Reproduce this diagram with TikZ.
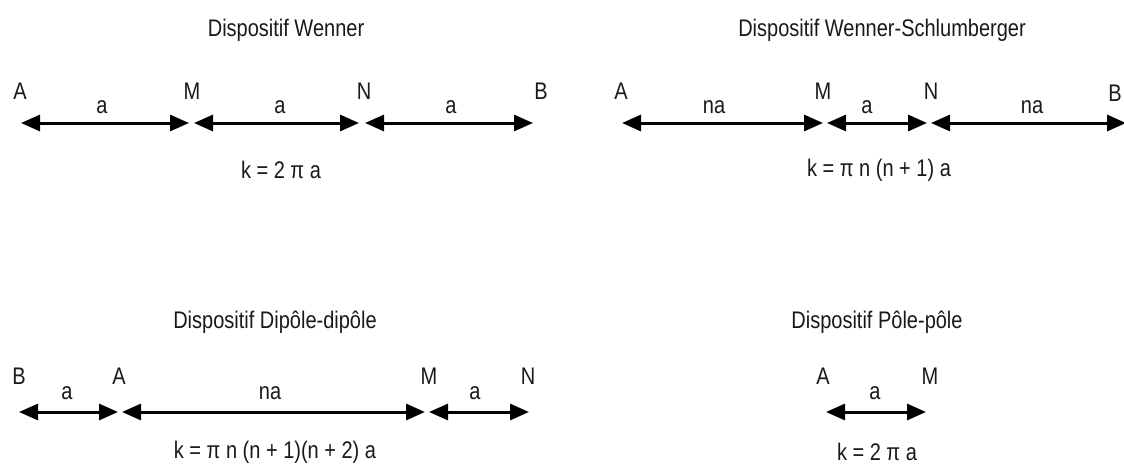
\documentclass[tikz,border=0pt]{standalone}
\usepackage{fontspec}
\usepackage{graphicx}
\setmainfont{Liberation Sans}
\usetikzlibrary{arrows.meta}
\newcommand\talltext[1]{\scalebox{1}[1.2]{#1}}
\begin{document}
\begin{tikzpicture}[x=1pt,y=-1pt,
  lbl/.style={font=\fontsize{20}{24}\selectfont, inner sep=0pt, anchor=center, text=black!90},
  dimarrow/.style={line width=3pt, {Triangle[length=19pt,width=16pt]}-{Triangle[length=19pt,width=16pt]}}]
\useasboundingbox (0,0) rectangle (1124,474);
\clip (0,0) rectangle (1124,474);

% ---------- Dispositif Wenner ----------
\node[lbl] (t1) at (286,30) {\talltext{Dispositif Wenner}};
\node[lbl] (w-A) at (20,91) {\talltext{A}};
\node[lbl] (w-M) at (192,91) {\talltext{M}};
\node[lbl] (w-N) at (364,91) {\talltext{N}};
\node[lbl] (w-B) at (541,91) {\talltext{B}};
\node[lbl] (w-a1) at (102,107) {\talltext{a}};
\node[lbl] (w-a2) at (280,107) {\talltext{a}};
\node[lbl] (w-a3) at (451,107) {\talltext{a}};
\node[lbl] (w-k) at (281,170) {\talltext{k = 2 π a}};
\coordinate (w1) at (21,123);
\coordinate (w2) at (189,123);
\coordinate (w3) at (194,123);
\coordinate (w4) at (359,123);
\coordinate (w5) at (365,123);
\coordinate (w6) at (533,123);
\draw[dimarrow] (w1) -- (w2);
\draw[dimarrow] (w3) -- (w4);
\draw[dimarrow] (w5) -- (w6);

% ---------- Dispositif Wenner-Schlumberger ----------
\node[lbl] (t2) at (882,30) {\talltext{Dispositif Wenner-Schlumberger}};
\node[lbl] (s-A) at (621,91) {\talltext{A}};
\node[lbl] (s-M) at (823,91) {\talltext{M}};
\node[lbl] (s-N) at (931,91) {\talltext{N}};
\node[lbl] (s-B) at (1115,93) {\talltext{B}};
\node[lbl] (s-a1) at (714,107) {\talltext{na}};
\node[lbl] (s-a2) at (867,107) {\talltext{a}};
\node[lbl] (s-a3) at (1032,107) {\talltext{na}};
\node[lbl] (s-k) at (879,170) {\talltext{k = π n (n + 1) a}};
\coordinate (s1) at (622,123);
\coordinate (s2) at (823,123);
\coordinate (s3) at (827,123);
\coordinate (s4) at (927,123);
\coordinate (s5) at (931,123);
\coordinate (s6) at (1126,123);
\draw[dimarrow] (s1) -- (s2);
\draw[dimarrow] (s3) -- (s4);
\draw[dimarrow] (s5) -- (s6);

% ---------- Dispositif Dipole-dipole ----------
\node[lbl] (t3) at (275,322) {\talltext{Dispositif Dipôle-dipôle}};
\node[lbl] (d-B) at (19,376) {\talltext{B}};
\node[lbl] (d-A) at (119,376) {\talltext{A}};
\node[lbl] (d-M) at (429,376) {\talltext{M}};
\node[lbl] (d-N) at (528,376) {\talltext{N}};
\node[lbl] (d-a1) at (67,393) {\talltext{a}};
\node[lbl] (d-a2) at (270,393) {\talltext{na}};
\node[lbl] (d-a3) at (475,393) {\talltext{a}};
\node[lbl] (d-k) at (275,452) {\talltext{k = π n (n + 1)(n + 2) a}};
\coordinate (d1) at (19,412);
\coordinate (d2) at (118,412);
\coordinate (d3) at (122,412);
\coordinate (d4) at (425,412);
\coordinate (d5) at (429,412);
\coordinate (d6) at (529,412);
\draw[dimarrow] (d1) -- (d2);
\draw[dimarrow] (d3) -- (d4);
\draw[dimarrow] (d5) -- (d6);

% ---------- Dispositif Pole-pole ----------
\node[lbl] (t4) at (877,322) {\talltext{Dispositif Pôle-pôle}};
\node[lbl] (p-A) at (823,376) {\talltext{A}};
\node[lbl] (p-M) at (930,376) {\talltext{M}};
\node[lbl] (p-a1) at (875,393) {\talltext{a}};
\node[lbl] (p-k) at (877,452) {\talltext{k = 2 π a}};
\coordinate (p1) at (826,412);
\coordinate (p2) at (926,412);
\draw[dimarrow] (p1) -- (p2);
\end{tikzpicture}
\end{document}
